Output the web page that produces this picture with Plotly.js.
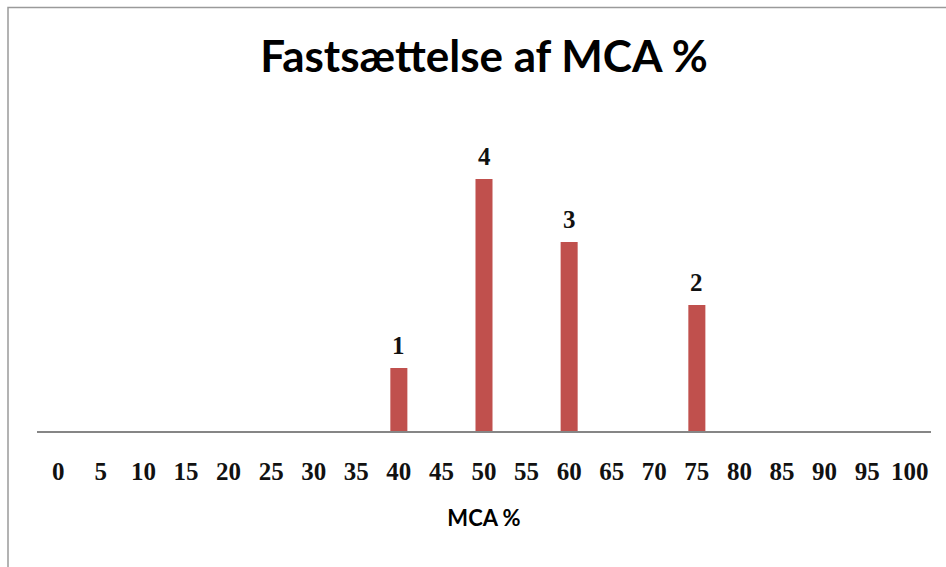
<!DOCTYPE html>
<html>
<head>
<meta charset="utf-8">
<script src="https://cdn.plot.ly/plotly-3.0.1.min.js"></script>
<style>html,body{margin:0;padding:0;background:#fff;}#chart{width:946px;height:567px;}</style>
</head>
<body>
<div id="chart"></div>
<script>
var categories = ["0","5","10","15","20","25","30","35","40","45","50","55","60","65","70","75","80","85","90","95","100"];
var counts = [0,0,0,0,0,0,0,0,1,0,4,0,3,0,0,2,0,0,0,0,0];
var chartTitle = "Fastsættelse af MCA %";
var xTitle = "MCA %";

var annotations = [];
categories.forEach(function(c, i){
  if (counts[i] > 0) {
    annotations.push({
      x: i, y: counts[i], xref: 'x', yref: 'y',
      text: String(counts[i]), showarrow: false,
      yanchor: 'bottom', yshift: 7,
      font: {family: 'Liberation Serif', size: 25, weight: 'bold', color: '#111'}
    });
  }
});

var L = 37, R = 15, T = 116, B = 136, W = 946, H = 567;
var pw = W - L - R, ph = H - T - B;
function px2x(p){ return (p - L) / pw; }
function py2y(p){ return (H - B - p) / ph; }

var data = [{
  type: 'bar',
  x: categories,
  y: counts,
  marker: {color: '#C0504D', line: {width: 0}},
  hoverinfo: 'skip'
}];

var layout = {
  width: W, height: H,
  margin: {l: L, r: R, t: T, b: B, pad: 0},
  paper_bgcolor: '#fff', plot_bgcolor: '#fff',
  showlegend: false,
  bargap: 0.6,
  title: {
    text: '<b>' + chartTitle + '</b>',
    x: 0.5, xref: 'paper', xanchor: 'center',
    y: 1 - 57 / H, yref: 'container', yanchor: 'middle',
    font: {family: 'Lato', size: 44, color: '#000'}
  },
  xaxis: {
    type: 'category',
    categoryorder: 'array', categoryarray: categories,
    tickmode: 'array', tickvals: categories, ticktext: categories,
    range: [-0.5, categories.length - 0.5],
    showline: true, linecolor: '#868686', linewidth: 1.5,
    showgrid: false, zeroline: false,
    ticks: 'outside', ticklen: 0, ticklabelstandoff: 17,
    tickfont: {family: 'Liberation Serif', size: 25, weight: 'bold', color: '#111'},
    title: {text: '<b>' + xTitle + '</b>', standoff: 27,
      font: {family: 'Lato', size: 22, color: '#000'}},
    fixedrange: true
  },
  yaxis: {
    range: [0, 5],
    visible: false,
    showgrid: false, zeroline: false,
    fixedrange: true
  },
  annotations: annotations,
  shapes: [{
    type: 'rect', xref: 'paper', yref: 'paper',
    x0: px2x(8), x1: px2x(960), y0: py2y(580), y1: py2y(7.5),
    line: {color: '#9a9a9a', width: 1.5}, fillcolor: 'rgba(0,0,0,0)', layer: 'below'
  }]
};

Plotly.newPlot('chart', data, layout, {displayModeBar: false, staticPlot: true});
</script>
</body>
</html>
